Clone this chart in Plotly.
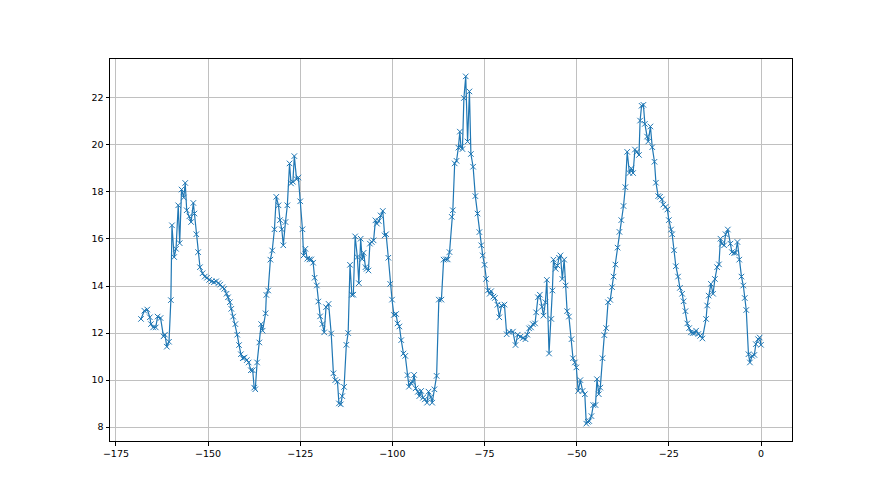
import plotly.graph_objects as go

hours = [
    -168.2, -167.3, -166.5, -165.8, -165.5, -164.9, -164.2, -163.7, -162.9, -162.1,
    -161.7, -161.2, -160.6, -160.1, -159.8, -159.2, -158.7, -158.1, -157.7, -157.2,
    -156.6, -156.2, -155.8, -155.1, -154.6, -154.0, -153.7, -153.2, -152.7, -152.2,
    -151.5, -150.9, -150.3, -149.7, -149.0, -148.4, -147.8, -147.2, -146.7, -146.1,
    -145.6, -145.0, -144.6, -144.1, -143.7, -143.2, -142.6, -142.1, -141.6, -141.1,
    -140.6, -140.1, -139.5, -139.0, -138.4, -137.9, -137.5, -137.2, -136.7, -136.1,
    -135.6, -135.2, -134.4, -134.2, -133.7, -133.1, -132.6, -132.0, -131.5, -130.9,
    -130.5, -130.0, -129.6, -129.0, -128.5, -127.9, -127.5, -127.0, -126.6, -126.0,
    -125.5, -125.0, -124.4, -124.1, -123.6, -123.1, -122.5, -122.0, -121.5, -121.1,
    -120.5, -120.1, -119.6, -119.0, -118.5, -118.0, -117.3, -116.6, -116.0, -115.5,
    -114.9, -114.5, -114.0, -113.6, -113.1, -112.5, -112.0, -111.5, -111.0, -110.6,
    -110.1, -109.5, -109.1, -108.6, -108.2, -107.8, -107.3, -107.0, -106.5, -106.1,
    -105.6, -105.1, -104.6, -104.2, -103.7, -103.2, -102.6, -102.1, -101.7, -101.1,
    -100.6, -100.1, -99.6, -99.0, -98.6, -98.1, -97.6, -97.0, -96.5, -95.9,
    -95.5, -95.0, -94.5, -94.1, -93.7, -93.1, -92.7, -92.2, -91.7, -91.2,
    -90.6, -90.2, -89.6, -89.2, -88.6, -88.0, -87.4, -86.7, -86.1, -85.5,
    -85.0, -84.5, -83.9, -83.6, -83.1, -82.6, -82.1, -81.7, -81.4, -81.0,
    -80.6, -80.1, -79.6, -79.1, -78.7, -78.1, -77.5, -76.9, -76.4, -75.9,
    -75.5, -75.0, -74.6, -74.1, -73.6, -73.2, -72.6, -72.2, -71.5, -71.0,
    -70.4, -69.6, -69.0, -68.3, -67.3, -66.6, -66.0, -65.3, -64.6, -63.9,
    -63.4, -62.9, -62.4, -61.9, -61.3, -61.0, -60.5, -60.0, -59.4, -59.0,
    -58.5, -58.1, -57.5, -56.9, -56.6, -56.3, -55.7, -55.2, -54.8, -54.4,
    -53.9, -53.4, -53.0, -52.6, -52.1, -51.4, -51.0, -50.5, -50.1, -49.6,
    -49.0, -48.4, -47.8, -47.4, -47.0, -46.6, -46.0, -45.5, -44.9, -44.5,
    -44.0, -43.6, -43.0, -42.5, -42.0, -41.5, -40.9, -40.4, -40.0, -39.5,
    -38.9, -38.4, -37.9, -37.3, -36.8, -36.3, -35.7, -35.2, -34.7, -34.2,
    -33.7, -33.1, -32.8, -32.4, -31.9, -31.5, -30.9, -30.6, -30.0, -29.5,
    -28.9, -28.5, -27.9, -27.4, -26.9, -26.5, -25.9, -25.4, -25.0, -24.4,
    -24.1, -23.6, -23.1, -22.5, -22.0, -21.4, -21.0, -20.5, -20.0, -19.5,
    -19.0, -18.5, -18.0, -17.6, -17.0, -16.5, -15.9, -14.9, -14.6, -14.2,
    -13.6, -13.0, -12.5, -11.9, -11.4, -11.0, -10.6, -10.0, -9.6, -9.0,
    -8.3, -7.9, -7.3, -6.9, -6.4, -5.9, -5.3, -4.8, -4.4, -4.0,
    -3.4, -3.0, -2.4, -1.8, -1.4, -0.8, -0.35, 0.0,
]

values = [
    12.6, 12.95, 13.0, 12.67, 12.38, 12.24, 12.24, 12.7, 12.64, 11.86,
    11.93, 11.42, 11.63, 13.4, 16.58, 15.23, 15.58, 17.43, 15.82, 18.1,
    17.76, 18.38, 17.22, 16.96, 16.72, 17.53, 17.08, 16.2, 15.44, 14.8,
    14.54, 14.4, 14.35, 14.26, 14.2, 14.16, 14.2, 14.12, 14.06, 13.95,
    13.88, 13.67, 13.52, 13.31, 13.03, 12.7, 12.38, 11.93, 11.49, 11.1,
    10.93, 10.96, 10.85, 10.75, 10.42, 10.42, 9.68, 9.61, 10.75, 11.6,
    12.38, 12.1, 12.84, 13.62, 13.81, 15.12, 15.51, 16.41, 17.79, 17.43,
    16.8, 16.41, 15.73, 16.72, 17.43, 19.21, 18.36, 18.43, 19.52, 18.54,
    18.61, 17.6, 16.41, 15.3, 15.58, 15.16, 15.13, 15.13, 14.99, 14.35,
    14.02, 13.34, 12.71, 12.38, 12.03, 13.1, 13.24, 11.98, 10.29, 10.0,
    9.93, 9.01, 8.97, 9.32, 9.71, 11.5, 12.0, 14.9, 13.63, 13.63,
    16.11, 15.23, 14.12, 16.01, 15.14, 15.41, 14.8, 14.73, 14.66, 15.8,
    15.87, 15.94, 16.79, 16.65, 16.76, 17.0, 17.19, 16.15, 16.2, 15.2,
    14.09, 13.42, 12.77, 12.81, 12.41, 12.28, 11.7, 11.13, 11.03, 10.21,
    9.72, 9.89, 9.92, 10.22, 9.65, 9.5, 9.32, 9.54, 9.25, 9.18,
    9.04, 9.51, 9.28, 9.04, 9.61, 10.18, 13.42, 13.42, 15.12, 15.13,
    15.13, 15.44, 16.94, 17.22, 19.21, 19.32, 19.88, 20.56, 19.92, 19.82,
    21.99, 22.91, 20.14, 22.27, 19.61, 19.07, 17.82, 17.08, 16.29, 15.73,
    15.3, 14.9, 14.3, 13.81, 13.67, 13.78, 13.55, 13.49, 13.2, 12.67,
    13.17, 13.21, 11.95, 12.05, 12.06, 11.49, 11.93, 11.84, 11.79, 11.74,
    11.93, 12.2, 12.24, 12.38, 12.41, 12.88, 13.52, 13.63, 13.12, 12.74,
    13.31, 14.26, 11.13, 12.6, 13.81, 15.12, 14.73, 14.87, 15.2, 15.3,
    14.3, 15.12, 14.02, 12.93, 12.7, 11.74, 10.93, 10.75, 10.54, 9.54,
    10.0, 9.54, 9.4, 8.15, 8.23, 8.26, 8.47, 8.94, 8.94, 10.04,
    9.4, 9.68, 10.93, 11.91, 12.21, 13.31, 13.41, 13.95, 14.4, 14.91,
    15.63, 16.3, 16.8, 17.4, 18.2, 19.7, 18.8, 19.0, 18.8, 19.8,
    19.7, 19.57, 21.03, 21.66, 21.7, 20.89, 20.35, 20.14, 20.78, 19.9,
    19.28, 18.39, 17.82, 17.79, 17.68, 17.46, 17.36, 17.25, 16.8, 16.4,
    16.2, 15.52, 14.84, 14.4, 13.92, 13.67, 13.35, 12.93, 12.41, 12.21,
    12.03, 12.0, 12.0, 12.1, 11.96, 11.88, 11.77, 12.6, 13.17, 13.59,
    14.09, 13.67, 14.3, 14.8, 14.92, 16.01, 15.8, 15.73, 16.2, 16.4,
    15.8, 15.44, 15.41, 15.41, 15.87, 15.12, 14.4, 14.02, 13.49, 12.98,
    11.1, 10.75, 11.03, 11.07, 11.53, 11.74, 11.81, 11.5,
]

x_ticks = [-175, -150, -125, -100, -75, -50, -25, 0]
y_ticks = [8, 10, 12, 14, 16, 18, 20, 22]

def padded(vals, frac=0.05):
    lo, hi = min(vals), max(vals)
    d = (hi - lo) * frac
    return [lo - d, hi + d]

color = "#1f77b4"
fig = go.Figure()
fig.add_trace(go.Scatter(
    x=hours, y=values, mode="lines+markers",
    line=dict(color=color, width=1.2),
    marker=dict(symbol="x-thin", size=5.5, color=color,
                line=dict(color=color, width=1)),
    showlegend=False,
))

axis_common = dict(
    showline=True, mirror=True, linecolor="black", linewidth=1,
    ticks="outside", ticklen=3.5, tickwidth=1, tickcolor="black",
    showgrid=True, gridcolor="#c0c0c0", gridwidth=0.8,
    zeroline=False,
    tickfont=dict(family="DejaVu Sans", size=9.5, color="black"),
)

fig.update_layout(
    width=880, height=495,
    margin=dict(l=102, r=96, t=51, b=62),
    paper_bgcolor="white", plot_bgcolor="white",
    xaxis=dict(range=padded(hours), tickvals=x_ticks,
               ticktext=[("\u2212" + str(-t)) if t < 0 else str(t) for t in x_ticks],
               **axis_common),
    yaxis=dict(range=padded(values), tickvals=y_ticks, **axis_common),
)

fig.write_html("out.html")
